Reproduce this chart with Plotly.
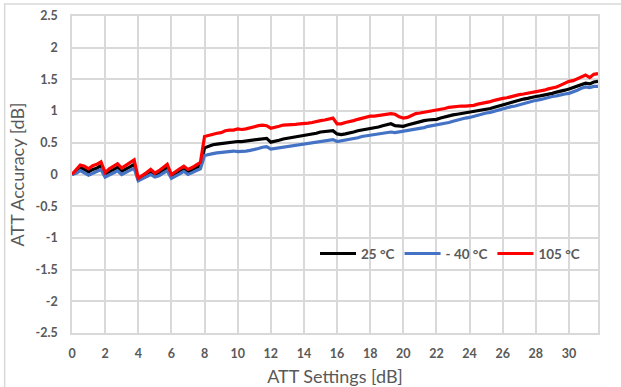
import plotly.graph_objects as go

# Attenuator settings: 7-bit, 0.25 dB LSB (0 .. 31.75 dB)
att_settings = [code * 0.25 for code in range(128)]

# Measured attenuation error [dB] at 25 °C, one row per 1 dB
acc_25c = [
    0.00, 0.05, 0.11, 0.08,   0.04, 0.08, 0.10, 0.14,
    0.00, 0.04, 0.08, 0.11,   0.05, 0.08, 0.12, 0.16,
    -0.08, -0.05, -0.01, 0.04, -0.01, 0.02, 0.06, 0.11,
    -0.03, 0.01, 0.05, 0.09,  0.04, 0.07, 0.10, 0.14,
    0.42, 0.45, 0.47, 0.48,   0.49, 0.50, 0.50, 0.51,
    0.52, 0.52, 0.53, 0.54,   0.55, 0.56, 0.57, 0.57,
    0.51, 0.52, 0.54, 0.56,   0.57, 0.58, 0.60, 0.61,
    0.62, 0.63, 0.64, 0.65,   0.67, 0.68, 0.69, 0.69,
    0.64, 0.63, 0.64, 0.65,   0.67, 0.69, 0.70, 0.72,
    0.73, 0.74, 0.75, 0.77,   0.79, 0.80, 0.77, 0.77,
    0.76, 0.78, 0.80, 0.82,   0.84, 0.85, 0.86, 0.86,
    0.87, 0.89, 0.91, 0.92,   0.94, 0.95, 0.96, 0.97,
    0.98, 0.99, 1.00, 1.01,   1.02, 1.04, 1.06, 1.08,
    1.10, 1.12, 1.14, 1.16,   1.18, 1.19, 1.20, 1.22,
    1.23, 1.24, 1.25, 1.27,   1.28, 1.30, 1.31, 1.33,
    1.35, 1.37, 1.39, 1.42,   1.44, 1.43, 1.46, 1.47,
]

# Measured attenuation error [dB] at -40 °C
acc_m40c = [
    0.00, 0.02, 0.06, 0.03,   -0.01, 0.02, 0.05, 0.08,
    -0.04, -0.01, 0.03, 0.06, 0.00, 0.03, 0.06, 0.10,
    -0.10, -0.07, -0.04, 0.00, -0.04, -0.02, 0.02, 0.06,
    -0.06, -0.03, 0.01, 0.05, 0.00, 0.03, 0.06, 0.09,
    0.30, 0.32, 0.33, 0.34,   0.35, 0.36, 0.36, 0.37,
    0.36, 0.36, 0.37, 0.38,   0.39, 0.41, 0.43, 0.44,
    0.40, 0.41, 0.42, 0.43,   0.44, 0.45, 0.46, 0.47,
    0.49, 0.50, 0.51, 0.52,   0.53, 0.54, 0.55, 0.55,
    0.52, 0.53, 0.55, 0.56,   0.57, 0.58, 0.60, 0.61,
    0.62, 0.63, 0.64, 0.65,   0.66, 0.67, 0.66, 0.67,
    0.68, 0.69, 0.70, 0.72,   0.73, 0.74, 0.76, 0.77,
    0.78, 0.80, 0.81, 0.82,   0.84, 0.86, 0.87, 0.89,
    0.90, 0.92, 0.93, 0.95,   0.97, 0.98, 1.00, 1.01,
    1.03, 1.05, 1.07, 1.08,   1.10, 1.12, 1.13, 1.15,
    1.17, 1.18, 1.20, 1.21,   1.23, 1.24, 1.26, 1.27,
    1.28, 1.30, 1.33, 1.36,   1.38, 1.37, 1.39, 1.39,
]

# Measured attenuation error [dB] at 105 °C
acc_105c = [
    0.00, 0.07, 0.15, 0.13,   0.09, 0.14, 0.16, 0.20,
    0.03, 0.09, 0.13, 0.17,   0.10, 0.14, 0.18, 0.23,
    -0.06, -0.02, 0.03, 0.08, 0.02, 0.06, 0.11, 0.16,
    0.00, 0.05, 0.09, 0.13,   0.08, 0.11, 0.15, 0.19,
    0.60, 0.62, 0.64, 0.65,   0.66, 0.69, 0.70, 0.70,
    0.72, 0.71, 0.72, 0.74,   0.76, 0.77, 0.78, 0.77,
    0.73, 0.74, 0.76, 0.78,   0.78, 0.78, 0.79, 0.80,
    0.80, 0.81, 0.82, 0.84,   0.85, 0.86, 0.88, 0.89,
    0.80, 0.80, 0.82, 0.83,   0.85, 0.87, 0.89, 0.91,
    0.92, 0.92, 0.93, 0.94,   0.94, 0.96, 0.95, 0.91,
    0.89, 0.90, 0.93, 0.96,   0.97, 0.98, 1.00, 1.01,
    1.02, 1.03, 1.04, 1.06,   1.07, 1.07, 1.08, 1.08,
    1.08, 1.09, 1.11, 1.12,   1.13, 1.15, 1.17, 1.19,
    1.20, 1.21, 1.23, 1.25,   1.26, 1.27, 1.28, 1.30,
    1.31, 1.32, 1.33, 1.35,   1.36, 1.38, 1.41, 1.44,
    1.47, 1.48, 1.51, 1.55,   1.57, 1.53, 1.58, 1.59,
]

x_ticks = list(range(0, 31, 2))
y_ticks = [2.5, 2, 1.5, 1, 0.5, 0, -0.5, -1, -1.5, -2, -2.5]
y_tick_text = ["2.5", "2", "1.5", "1", "0.5", "0", "-0.5", "-1", "-1.5", "-2", "-2.5"]

series = [
    ("25 °C", acc_25c, "#000000"),
    ("- 40 °C", acc_m40c, "#4472C4"),
    ("105 °C", acc_105c, "#FF0000"),
]

FONT = "Lato, 'Open Sans', 'DejaVu Sans', sans-serif"
TEXT_GREY = "#595959"
GRID = "#d9d9d9"

fig = go.Figure()
for name, vals, color in series:
    fig.add_trace(go.Scatter(
        x=att_settings, y=vals, name=name, mode="lines",
        line=dict(color=color, width=3.2),
    ))

fig.update_layout(
    width=621, height=387,
    margin=dict(l=72, r=23, t=16, b=54),
    paper_bgcolor="white", plot_bgcolor="white",
    font=dict(family=FONT, color=TEXT_GREY),
    showlegend=True,
    legend=dict(
        orientation="h", x=0.462, y=0.25, xanchor="left", yanchor="middle",
        bgcolor="rgba(0,0,0,0)", borderwidth=0,
        font=dict(family=FONT, size=13.5, color=TEXT_GREY, weight="bold"),
        itemwidth=36, tracegroupgap=0,
    ),
    xaxis=dict(
        range=[0, 31.75], tickvals=x_ticks, automargin=False,
        showgrid=True, gridcolor=GRID, gridwidth=1.5,
        zeroline=False, showline=True, linecolor=GRID, linewidth=1.5, mirror=True,
        ticks="", ticklabelstandoff=8,
        tickfont=dict(family=FONT, size=12.5, color=TEXT_GREY, weight="bold"),
        title=dict(text="ATT Settings [dB]", standoff=13,
                   font=dict(family=FONT, size=18, color=TEXT_GREY)),
    ),
    yaxis=dict(
        range=[-2.5, 2.5], tickvals=y_ticks, ticktext=y_tick_text, automargin=False,
        showgrid=True, gridcolor=GRID, gridwidth=1.5,
        zeroline=False, showline=True, linecolor=GRID, linewidth=1.5, mirror=True,
        ticks="", ticklabelstandoff=10,
        tickfont=dict(family=FONT, size=12.5, color=TEXT_GREY, weight="bold"),
        title=dict(text="ATT Accuracy [dB]", standoff=6,
                   font=dict(family=FONT, size=18, color=TEXT_GREY)),
    ),
)

# Chart-area frame
fig.add_shape(
    type="rect", xref="paper", yref="paper",
    x0=-0.128, x1=1.2, y0=-0.3, y1=1.038,
    line=dict(color=GRID, width=1.5), fillcolor="rgba(0,0,0,0)", layer="below",
)

fig.write_html("out.html")
